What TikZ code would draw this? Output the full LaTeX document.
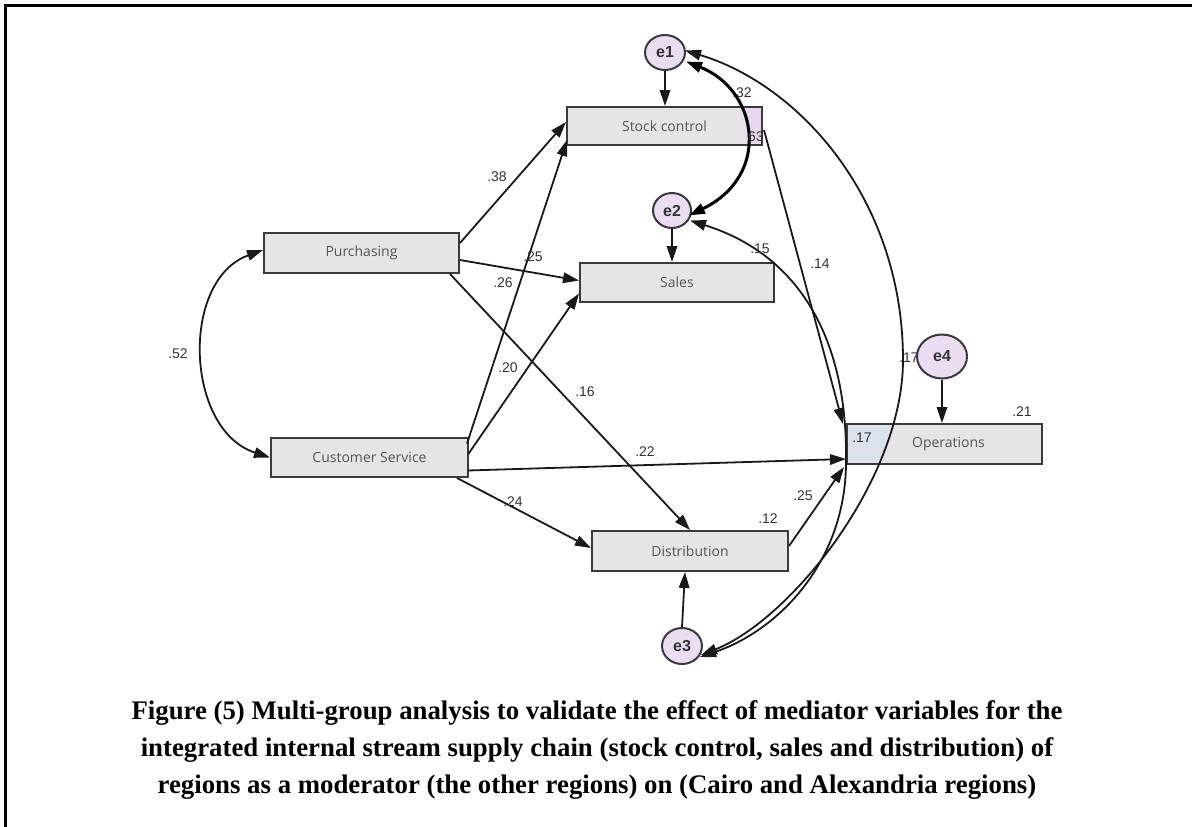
\documentclass[tikz,border=0pt]{standalone}
\usepackage{fontspec}
\setmainfont{Liberation Serif}
\newfontfamily\boxfont{Open Sans}
\newfontfamily\numfont{Liberation Sans}
\usetikzlibrary{arrows.meta,calc,shapes.geometric}

\definecolor{boxfill}{HTML}{E6E4E6}
\definecolor{boxedge}{HTML}{3A3A3A}
\definecolor{errfill}{HTML}{EADDF2}
\definecolor{labgray}{HTML}{555555}
\definecolor{numgray}{HTML}{333333}
\definecolor{r2pink}{HTML}{E6D6EE}
\definecolor{opblue}{HTML}{DCE2EC}

\begin{document}
\begin{tikzpicture}[x=1pt,y=-1pt,
  >={Triangle[length=16pt,width=10.5pt]},
  obs/.style={rectangle,draw=boxedge,line width=2pt,fill=boxfill,inner sep=0pt,
    minimum height=39pt,minimum width=195pt,
    font=\boxfont\fontsize{14}{16}\selectfont,text=labgray},
  err/.style={ellipse,draw=boxedge,line width=2pt,fill=errfill,inner sep=0pt,
    font=\numfont\bfseries\fontsize{16}{18}\selectfont,text=numgray},
  regarrow/.style={->,line width=1.8pt,draw=black!90},
  covarc/.style={<->,line width=1.8pt,draw=black!90},
  coef/.style={font=\numfont\fontsize{14}{16}\selectfont,text=numgray,inner sep=0pt},
  caption/.style={font=\bfseries\fontsize{26.8}{37}\selectfont,align=center,inner sep=0pt}]
\useasboundingbox (0,0) rectangle (1192,827);

% page frame (top and left rules)
\draw[line width=3pt,line cap=rect] (1192,5) -- (5,5) -- (5,827);

% observed variables
\node[obs,minimum width=195pt,minimum height=38pt,
  path picture={\fill[r2pink] ([xshift=-17pt]path picture bounding box.north east)
    rectangle (path picture bounding box.south east);}]
  (stock) at (664.5,126) {Stock control};
\node[obs,minimum width=195pt,minimum height=40pt] (purch) at (361.5,253) {Purchasing};
\node[obs,minimum width=194pt,minimum height=39pt] (sales) at (677,282.5) {Sales};
\node[obs,minimum width=197pt,minimum height=39pt] (cust) at (369.5,457.5) {Customer Service};
\node[obs,minimum width=195pt,minimum height=40pt,
  path picture={\fill[opblue] (path picture bounding box.north west) -- ++(46,0)
    -- ++(-13,40) -- ++(-33,0) -- cycle;}]
  (oper) at (944.5,444) {\hspace*{8pt}Operations};
\node[obs,minimum width=196pt,minimum height=40pt] (dist) at (690,551) {Distribution};

% covariance label partly hidden behind e4
\node[coef] (c17b) at (909,358) {.17};

% error terms
\node[err,minimum width=40pt,minimum height=35pt] (e1) at (665,52.5) {e1};
\node[err,minimum width=38pt,minimum height=35pt] (e2) at (672,210.5) {e2};
\node[err,minimum width=40pt,minimum height=36pt] (e3) at (682,646) {e3};
\node[err,minimum width=50pt,minimum height=44pt] (e4) at (942,356.5) {e4};

% error -> indicator
\draw[regarrow] (e1.south) -- (e1.south |- stock.north);
\draw[regarrow] (e2.south) -- (e2.south |- sales.north);
\draw[regarrow] (e3.north) -- ($(dist.south)+(-5,0)$);
\draw[regarrow] (e4.south) -- (e4.south |- oper.north);

% structural paths
\draw[regarrow] ($(purch.east)+(0,-10)$) -- ($(stock.west)+(0,-4)$);
\draw[regarrow] ($(cust.east)+(-2,-14)$) -- ($(stock.west)+(1,14)$);
\draw[regarrow] ($(purch.east)+(0,7)$) -- ($(sales.west)+(0,-2)$);
\draw[regarrow] ($(cust.east)+(-1,-3)$) -- ($(sales.west)+(0,11)$);
\draw[regarrow] ($(purch.south east)+(-10,0)$) -- (dist.north);
\draw[regarrow] ($(cust.east)+(-1,13)$) -- ($(oper.west)+(0,15)$);
\draw[regarrow] ($(cust.south east)+(-12,0)$) -- ($(dist.west)+(0,-3)$);
\draw[regarrow] ($(dist.east)+(0,-5)$) -- ($(oper.south west)+(-2,2)$);
\draw[regarrow] ($(stock.east)+(1,4)$) -- ($(oper.north west)+(-3,1)$);

% covariances
\draw[covarc] ($(purch.west)+(0,-3)$) .. controls (180,280) and (185,430) .. (cust.west);
\draw[<->,line width=3pt,draw=black] ($(e1.center)+(21,9)$) .. controls (758,90) and (772,175) .. ($(e2.center)+(17,5)$);
\draw[covarc] ($(e1.center)+(20,-2)$) .. controls (800,85) and (903,200) .. (903,360)
  .. controls (903,480) and (790,620) .. ($(e3.center)+(19,9)$);
\draw[covarc] ($(e2.center)+(18,10)$) .. controls (800,255) and (848,340) .. (846,462)
  .. controls (846,560) and (780,630) .. ($(e3.center)+(18,11)$);

% coefficients
\node[coef] at (497,177) {.38};
\node[coef] at (533,257) {.25};
\node[coef] at (503,283) {.26};
\node[coef] at (508,368) {.20};
\node[coef] at (585,392) {.16};
\node[coef] at (645,452) {.22};
\node[coef] at (513,502) {.24};
\node[coef] at (742,93) {.32};
\node[coef] at (756,137) {63};
\node[coef] at (760,249) {.15};
\node[coef] at (820,264) {.14};
\node[coef] at (178,354) {.52};
\node[coef] at (862,438) {.17};
\node[coef] at (1022,412) {.21};
\node[coef] at (803,496) {.25};
\node[coef] at (768,519) {.12};

% caption
\node[caption] (cap) at (597,750) {Figure (5) Multi-group analysis to validate the effect of mediator variables for the\\
integrated internal stream supply chain (stock control, sales and distribution) of\\
regions as a moderator (the other regions) on (Cairo and Alexandria regions)};
\end{tikzpicture}
\end{document}
